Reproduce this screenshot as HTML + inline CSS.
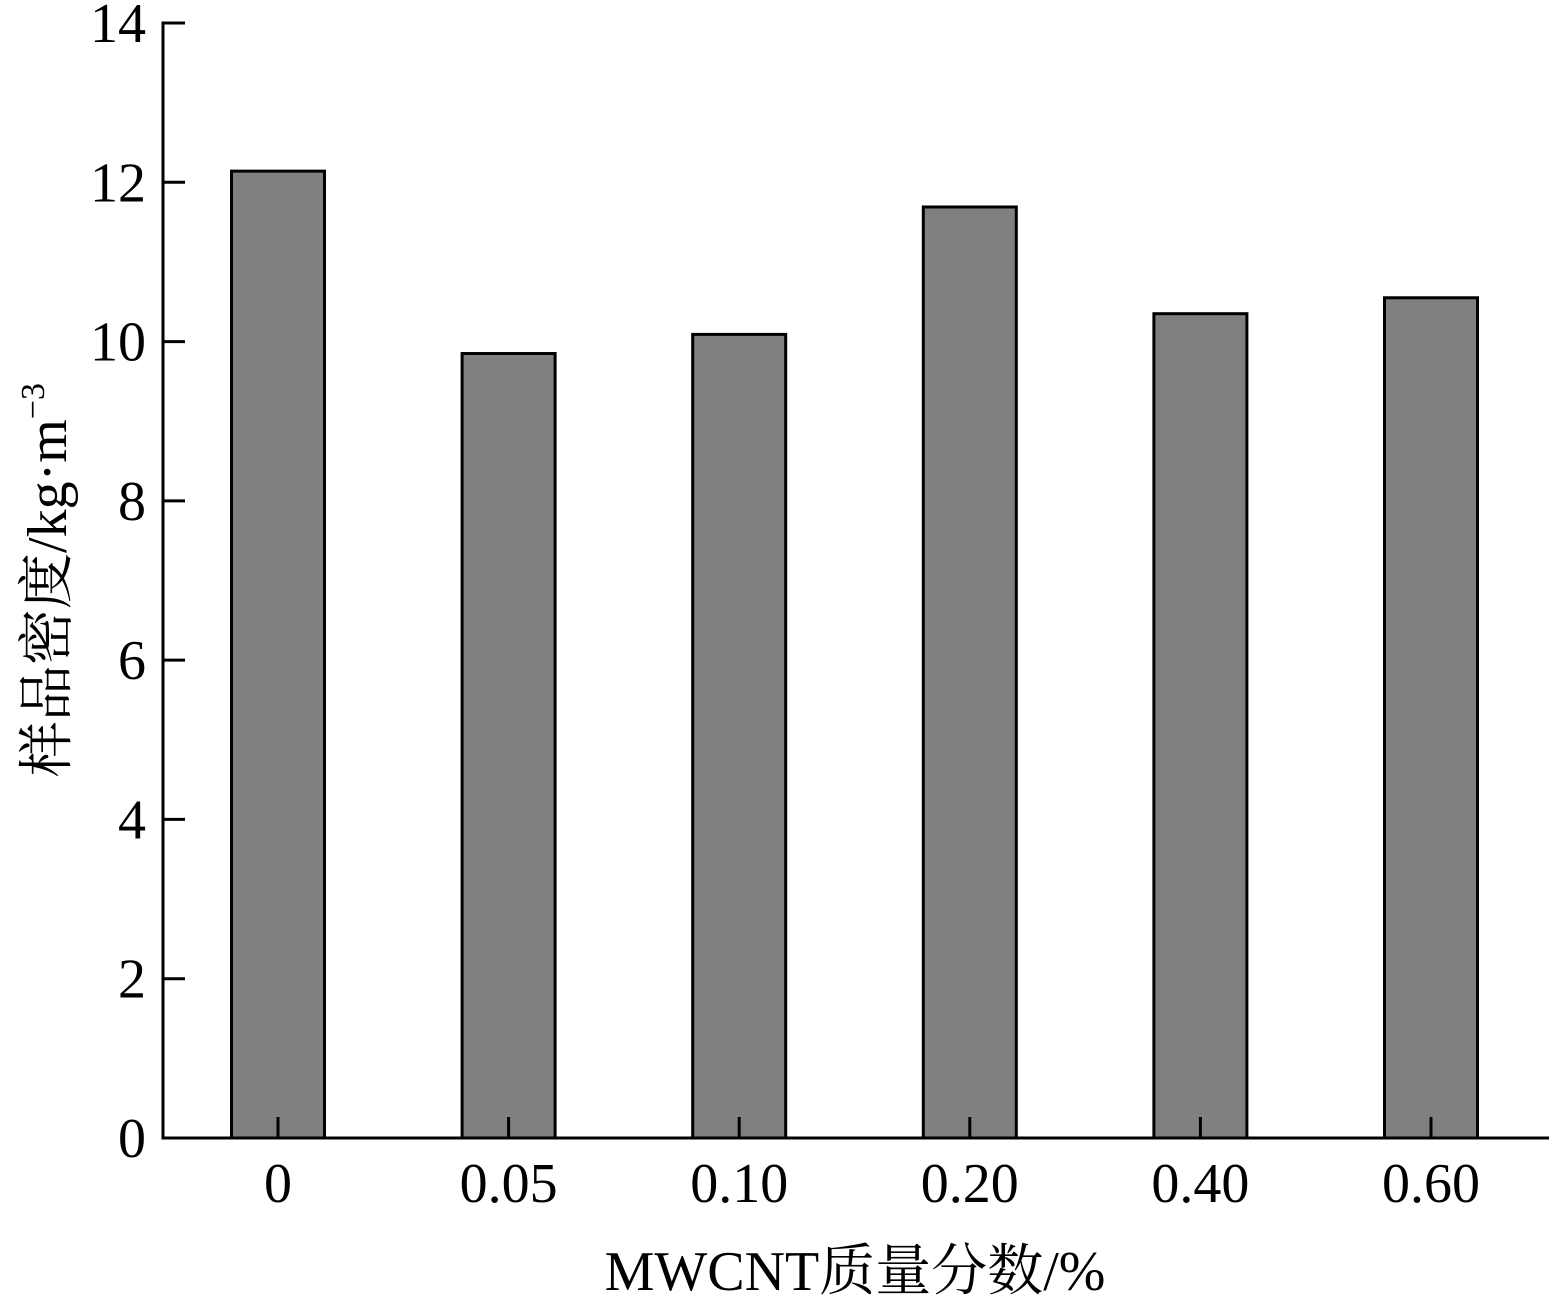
<!DOCTYPE html>
<html><head><meta charset="utf-8">
<style>
html,body{margin:0;padding:0;background:#fff;}
svg{display:block;}
text{font-family:"Liberation Serif","Noto Serif CJK SC",serif;fill:#000;}
</style></head>
<body>
<svg id="chart" width="1549" height="1297" viewBox="0 0 1549 1297" xmlns="http://www.w3.org/2000/svg"></svg>
<script>
const categories = ["0","0.05","0.10","0.20","0.40","0.60"];
const values = [12.14, 9.85, 10.09, 11.69, 10.35, 10.55];
const yTicks = [0,2,4,6,8,10,12,14];

const NS="http://www.w3.org/2000/svg";
const svg=document.getElementById('chart');
const x0=163, x1=1549, yTop=23, yBot=1138, yMax=14;
const firstCenter=278, step=230.6, barW=93;
function yScale(v){return yBot-(v/yMax)*(yBot-yTop);}
function xScale(i){return firstCenter+i*step;}
function mk(tag,attrs,parent){const e=document.createElementNS(NS,tag);for(const k in attrs)e.setAttribute(k,attrs[k]);(parent||svg).appendChild(e);return e;}

const bars=mk('g',{});


values.forEach((v,i)=>{
  const r=mk('rect',{x:xScale(i)-barW/2,y:yScale(v),width:barW,height:yBot-yScale(v),fill:'#808080',stroke:'#000','stroke-width':3},bars);
  
  
});

const ax=mk('g',{});


const yl=mk('line',{x1:x0,y1:yTop-1.5,x2:x0,y2:yBot,stroke:'#000','stroke-width':3},ax);


const xl=mk('line',{x1:x0-1.5,y1:yBot,x2:x1,y2:yBot,stroke:'#000','stroke-width':3},ax);



yTicks.forEach(t=>{
  const y=yScale(t);
  mk('line',{x1:x0,y1:y,x2:x0+22,y2:y,stroke:'#000','stroke-width':3},ax);
  const tx=mk('text',{x:146,y:y+19,'text-anchor':'end','font-size':56},ax);
  tx.textContent=t;
  
  
});
categories.forEach((c,i)=>{
  const x=xScale(i);
  mk('line',{x1:x,y1:yBot,x2:x,y2:yBot-21,stroke:'#000','stroke-width':3},ax);
  const tx=mk('text',{x:x,y:1202,'text-anchor':'middle','font-size':56},ax);
  tx.textContent=c;
  
  
});

const xt=mk('text',{x:855,y:1290,'text-anchor':'middle','font-size':56});
xt.textContent='MWCNT质量分数/%';



const ytg=mk('g',{transform:'translate(66,580) rotate(-90)'});


const yt=mk('text',{x:0,y:0,'text-anchor':'middle','font-size':56},ytg);
yt.innerHTML='样品密度/kg·m<tspan dy="-22" font-size="34">−3</tspan>';
</script>
</body></html>
